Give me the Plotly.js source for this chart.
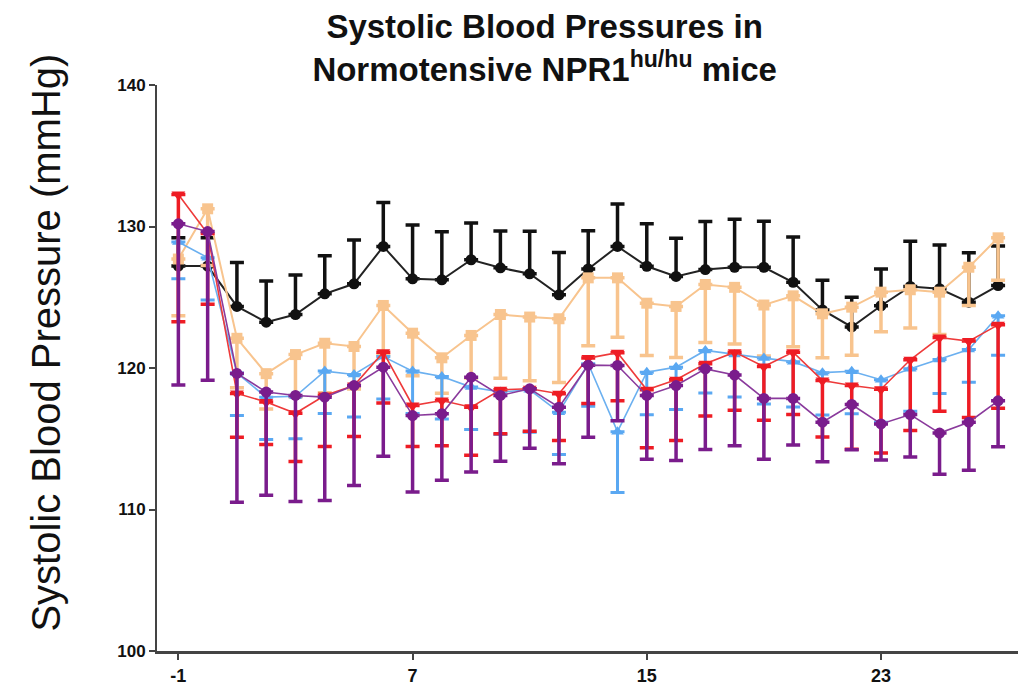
<!DOCTYPE html>
<html>
<head>
<meta charset="utf-8">
<script src="https://cdn.plot.ly/plotly-3.0.1.min.js"></script>
<style>html,body{margin:0;padding:0;background:#fff;}#chart{width:1018px;height:689px;}</style>
</head>
<body>
<div id="chart"></div>
<script>
// Days
const days = [-1,0,1,2,3,4,5,6,7,8,9,10,11,12,13,14,15,16,17,18,19,20,21,22,23,24,25,26,27];
const xTickVals = [-1, 7, 15, 23];
const yTickVals = [100, 110, 120, 130, 140];
const yTitle = 'Systolic Blood Pressure (mmHg)';

// Group 1 (black circles) mean and upper SEM
const blackMean = [127.2,127.2,124.35,123.24,123.78,125.24,125.95,128.59,126.3,126.23,127.65,127.08,126.66,125.17,127.0,128.59,127.19,126.47,126.96,127.12,127.12,126.06,124.1,122.9,124.4,125.76,125.6,124.65,125.83];
const blackErr  = [2,2,3.1,2.9,2.8,2.7,3.1,3.1,3.8,3.4,2.6,2.6,3.0,3.0,2.7,3.0,3.0,2.7,3.4,3.4,3.25,3.2,2.1,2.1,2.6,3.2,3.1,3.5,2.8];

// Group 2 (light orange squares) mean and lower SEM
const orangeMean = [127.7,131.25,122.1,119.6,120.95,121.75,121.52,124.42,122.46,120.72,122.3,123.78,123.6,123.48,126.37,126.37,124.58,124.35,125.9,125.7,124.45,125.1,123.83,124.3,125.36,125.53,125.36,127.12,129.2];
const orangeErr  = [4,4,3.5,2.5,3,3.5,3,3.5,3,2.5,3,4.5,4.5,4.5,4.8,4.2,3.7,3.6,4.1,4.0,3.6,3.6,3.1,3.4,2.8,2.7,3.0,2.7,3.0];

// Group 3 (light blue up-triangles) mean and lower SEM
const blueMean = [128.9,127.8,119.64,117.94,118.0,119.78,119.54,120.81,119.78,119.4,118.65,118.3,118.46,116.88,120.3,115.5,119.7,120.06,121.24,120.95,120.7,120.45,119.67,119.77,119.17,119.94,120.6,121.3,123.7];
const blueErr  = [2.6,3,3,3,3,3,3,3,3,3,3,3,3,3,3,4.3,3,3,3,3,3.25,3.2,3,3,3,3,2.4,2.3,2.8];

// Group 4 (red down-triangles) mean and lower SEM
const redMean = [132.26,129.5,118.2,117.6,116.8,118.06,118.76,121.12,117.35,117.7,117.23,118.46,118.53,118.18,120.7,121.08,118.46,119.17,120.3,121.12,120.1,121.12,119.12,118.76,118.5,120.58,122.15,121.9,123.05];
const redErr  = [9,5,3.1,3.0,3.4,3.6,3.6,3.6,2.9,3.2,3.4,3.1,3.0,3.3,3.2,3.4,4.1,4.3,3.7,4.1,3.8,4.4,4.0,4.5,4.5,5.0,5.2,5.4,5.9];

// Group 5 (purple circles) mean and lower SEM
const purpleMean = [130.19,129.64,119.62,118.3,118.06,117.94,118.76,120.06,116.64,116.76,119.35,118.06,118.53,117.23,120.2,120.18,118.06,118.76,119.94,119.5,117.85,117.85,116.17,117.42,116.05,116.71,115.4,116.17,117.68];
const purpleErr  = [11.4,10.5,9.1,7.3,7.5,7.3,7.06,6.3,5.4,4.7,6.7,4.65,4.2,4.0,5.1,3.9,4.5,5.3,5.7,5.0,4.3,3.3,2.8,3.2,2.55,3.0,2.9,3.4,3.25];

const zeros = days.map(() => 0);

function series(mean, up, down, color, lineColor, symbol, size, lw, ew) {
  return {
    x: days, y: mean, type: 'scatter', mode: 'lines+markers',
    line: {color: lineColor, width: lw},
    marker: {color: color, symbol: symbol, size: size},
    error_y: {type: 'data', symmetric: false, array: up, arrayminus: down,
              color: color, thickness: ew, width: 7, visible: true},
    showlegend: false, cliponaxis: false
  };
}

const traces = [
  series(blackMean, blackErr, zeros, '#111111', '#222222', 'circle', 11, 2, 3.5),
  series(orangeMean, zeros, orangeErr, '#F8C48E', '#F8C48E', 'square', 11, 2, 3.5),
  series(blueMean, zeros, blueErr, '#5AA8F2', '#6BB0F0', 'triangle-up', 11, 1.6, 3),
  series(redMean, zeros, redErr, '#EE1C24', '#EE3A3A', 'triangle-down', 12, 1.6, 3.5),
  series(purpleMean, zeros, purpleErr, '#7A1C8C', '#8A3A9C', 'circle', 11, 1.6, 3.5)
];

const layout = {
  width: 1018, height: 689,
  paper_bgcolor: '#ffffff', plot_bgcolor: '#ffffff',
  margin: {l: 157, r: 0, t: 85, b: 38},
  font: {family: 'Liberation Sans, Arial, sans-serif', color: '#111'},
  title: {
    text: '<b>Systolic Blood Pressures in<br>Normotensive NPR1<sup>hu/hu</sup> mice</b>',
    font: {size: 33, color: '#111', family: 'Liberation Sans, Arial, sans-serif'},
    x: 0.535, xanchor: 'center', y: 0.945, yanchor: 'top'
  },
  xaxis: {
    range: [-1.73, 27.68], tickvals: xTickVals, ticktext: xTickVals.map(String),
    ticks: 'outside', ticklen: 6, tickwidth: 2, tickcolor: '#444',
    showline: true, linewidth: 3, linecolor: '#444', showgrid: false, zeroline: false,
    tickfont: {size: 18, family: 'Liberation Sans, Arial, sans-serif', color: '#111', weight: 'bold'}
  },
  yaxis: {
    range: [100, 140], tickvals: yTickVals, ticktext: yTickVals.map(String),
    ticks: 'outside', ticklen: 6, tickwidth: 2, tickcolor: '#444',
    showline: true, linewidth: 2, linecolor: '#444', showgrid: false, zeroline: false,
    tickfont: {size: 17, family: 'Liberation Sans, Arial, sans-serif', color: '#111', weight: 'bold'}
  },
  annotations: [{
    text: yTitle, textangle: -90, showarrow: false,
    xref: 'paper', yref: 'paper', x: -0.130, y: 0.545, xanchor: 'center', yanchor: 'middle',
    font: {size: 40, family: 'Liberation Sans, Arial, sans-serif', color: '#111'}
  }]
};

Plotly.newPlot('chart', traces, layout, {displayModeBar: false, staticPlot: true});
</script>
</body>
</html>
